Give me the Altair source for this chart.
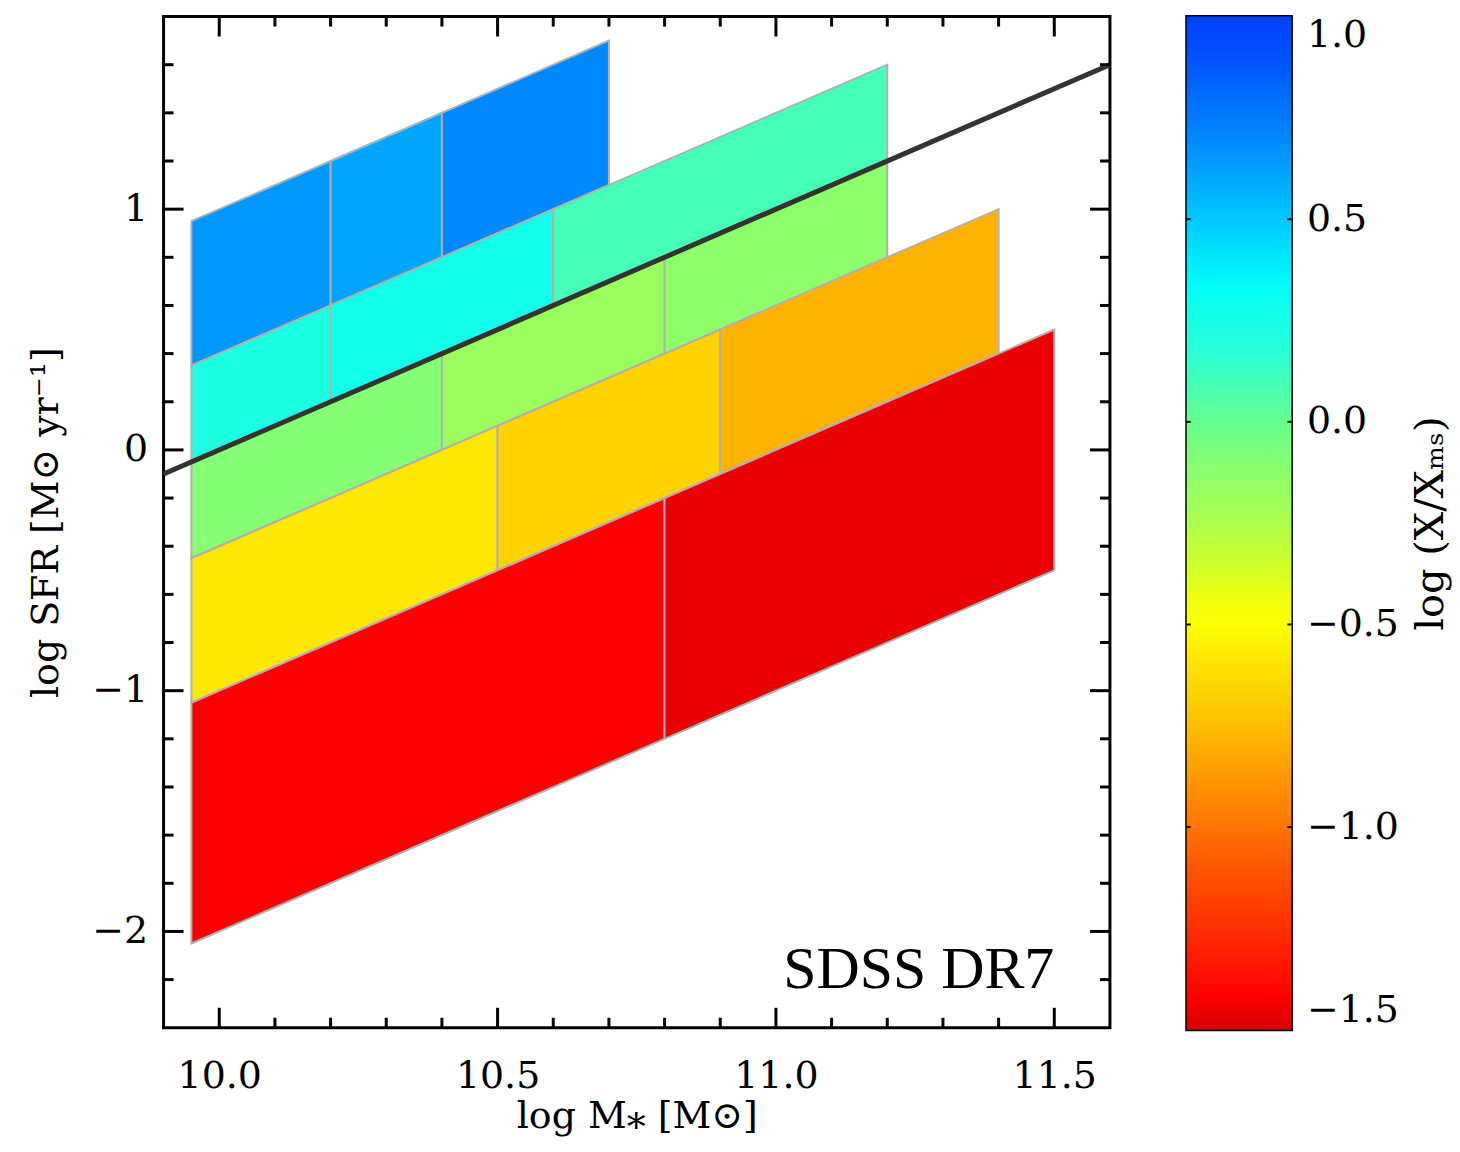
import altair as alt
import pandas as pd

# ---------------- data ----------------
# colour bar (colour map)
cbar_values = [-1.5, -1.42, -1.37, -1.25, -1.12, -1.0, -0.85, -0.8, -0.68, -0.58,
               -0.5, -0.43, -0.36, -0.235, -0.11, 0.0, 0.06, 0.18, 0.305, 0.33,
               0.43, 0.5, 0.55, 0.675, 0.79, 0.91, 1.0]
cbar_colors = ["#d40000", "#ff0000", "#ff0e00", "#ff3000", "#ff5000", "#ff7400",
               "#ffa000", "#ffb000", "#ffd000", "#ffe800", "#ffff00", "#eeff10",
               "#d0ff28", "#a8ff50", "#88ff70", "#66ff90", "#50ffa8", "#28ffd8",
               "#08fff0", "#00fff8", "#00e0ff", "#00c8ff", "#00b8ff", "#0090ff",
               "#0070ff", "#0050ff", "#0040ff"]
cbar_labels = [1.0, 0.5, 0.0, -0.5, -1.0, -1.5]
cbar_inner_ticks = [0.5, 0.0, -0.5, -1.0]

# bins: stellar-mass range and offset from the main sequence (log SFR - MS)
bin_mass_lo = [9.95, 10.2, 10.4, 9.95, 10.2, 10.6, 9.95, 10.4, 10.8, 9.95, 10.5, 10.9, 9.95, 10.8]
bin_mass_hi = [10.2, 10.4, 10.7, 10.2, 10.6, 11.2, 10.4, 10.8, 11.2, 10.5, 10.9, 11.4, 10.8, 11.5]
bin_dms_lo = [0.4, 0.4, 0.4, 0.0, 0.0, 0.0, -0.4, -0.4, -0.4, -1.0, -1.0, -1.0, -2.0, -2.0]
bin_dms_hi = [1.0, 1.0, 1.0, 0.4, 0.4, 0.4, 0.0, 0.0, 0.0, -0.4, -0.4, -0.4, -1.0, -1.0]
bin_value = [0.65, 0.61, 0.70, 0.23, 0.27, 0.10, -0.10, -0.18, -0.13, -0.58, -0.67, -0.79, -1.42, -1.46]

# main-sequence line: log SFR = log M* - 10
ms_intercept = -10.0
ms_mass = [9.9, 11.6]
ms_sfr = [-0.1, 1.6]

# axis ticks
x_major = [10.0, 10.5, 11.0, 11.5]
x_minor = [10.1, 10.2, 10.3, 10.4, 10.6, 10.7, 10.8, 10.9, 11.1, 11.2, 11.3, 11.4]
y_major = [-2, -1, 0, 1]
y_minor = [-2.2, -1.8, -1.6, -1.4, -1.2, -0.8, -0.6, -0.4, -0.2,
           0.2, 0.4, 0.6, 0.8, 1.2, 1.4, 1.6]

label_text = ["SDSS DR7"]
label_mass = [11.5]
label_sfr = [-2.235]

# ---------------- tables ----------------
rows = []
for i in range(len(bin_mass_lo)):
    for m in (bin_mass_lo[i], bin_mass_hi[i]):
        ms = m + ms_intercept
        rows.append(dict(pid=i, mass=m, lo=ms + bin_dms_lo[i], hi=ms + bin_dms_hi[i], val=bin_value[i]))
patch_df = pd.DataFrame(rows)
ms_df = pd.DataFrame({"mass": ms_mass, "sfr": ms_sfr})
xmaj_df = pd.DataFrame({"mass": x_major})
xmin_df = pd.DataFrame({"mass": x_minor})
ymaj_df = pd.DataFrame({"sfr": y_major})
ymin_df = pd.DataFrame({"sfr": y_minor})
lab_df = pd.DataFrame({"mass": label_mass, "sfr": label_sfr, "t": label_text})

W, H = 949, 1014
CW, CH = 105, 1016
FONT = "DejaVu Serif"

xs = alt.Scale(domain=[9.9, 11.6], nice=False, zero=False)
ys = alt.Scale(domain=[-2.4, 1.8], nice=False, zero=False)
cscale = alt.Scale(domain=cbar_values, range=cbar_colors, interpolate="rgb")

X_TITLE = "log M⁎ [M⊙]"
Y_TITLE = "log SFR [M⊙ yr⁻¹]"
x_axis = alt.Axis(values=x_major, format=".1f", tickSize=0, domain=False, grid=False,
                  labelPadding=30, labelFlush=False, title=X_TITLE, titlePadding=2)
y_axis = alt.Axis(values=y_major, format="d", tickSize=0, domain=False, grid=False,
                  labelPadding=16, labelFlush=False, title=Y_TITLE, titlePadding=26)

def X(field):
    return alt.X(field, scale=xs, axis=x_axis, title=X_TITLE)

def Y(field, **kw):
    return alt.Y(field, scale=ys, axis=y_axis, title=Y_TITLE, **kw)

patches = alt.Chart(patch_df).mark_area(
    stroke="#b0b0b0", strokeWidth=2, opacity=1, interpolate="linear"
).encode(
    x=X("mass:Q"),
    y=Y("lo:Q", stack=None),
    y2="hi:Q",
    color=alt.Color("val:Q", scale=cscale, legend=None),
    detail="pid:N",
)

ms_line = alt.Chart(ms_df).mark_line(color="#333333", strokeWidth=5).encode(
    x=X("mass:Q"), y=Y("sfr:Q"),
)

def xticks(df, length):
    bot = alt.Chart(df).mark_rule(color="black", strokeWidth=3).encode(
        x=X("mass:Q"), y=alt.value(H), y2=alt.value(H - length))
    top = alt.Chart(df).mark_rule(color="black", strokeWidth=3).encode(
        x=X("mass:Q"), y=alt.value(0), y2=alt.value(length))
    return [bot, top]

def yticks(df, length):
    left = alt.Chart(df).mark_rule(color="black", strokeWidth=3).encode(
        y=Y("sfr:Q"), x=alt.value(0), x2=alt.value(length))
    right = alt.Chart(df).mark_rule(color="black", strokeWidth=3).encode(
        y=Y("sfr:Q"), x=alt.value(W), x2=alt.value(W - length))
    return [left, right]

label = alt.Chart(lab_df).mark_text(
    align="right", baseline="alphabetic", font="Liberation Serif", fontSize=60, color="black"
).encode(
    x=X("mass:Q"), y=Y("sfr:Q"),
    text="t:N",
)

main = alt.layer(
    patches, ms_line,
    *xticks(xmaj_df, 20), *xticks(xmin_df, 10),
    *yticks(ymaj_df, 20), *yticks(ymin_df, 10),
    label,
).properties(width=W, height=H)

# ---------------- colour bar ----------------
c_lo, c_hi = cbar_values[0], cbar_values[-1]
gradient = {
    "gradient": "linear",
    "x1": 0, "x2": 0, "y1": 1, "y2": 0,
    "stops": [{"offset": (v - c_lo) / (c_hi - c_lo), "color": c} for v, c in zip(cbar_values, cbar_colors)],
}
C_TITLE = "log (X/Xₘₛ)"
cb_scale = alt.Scale(domain=[c_lo, c_hi], nice=False, zero=False)
cb_axis = alt.Axis(
    orient="right", values=cbar_labels, format=".1f", labelFlush=True,
    tickSize=0, domain=False, grid=False, labelPadding=15,
    title=C_TITLE, titleAngle=270, titleBaseline="top", titlePadding=12, titleFontSize=40)

def CY(field):
    return alt.Y(field, scale=cb_scale, axis=cb_axis, title=C_TITLE)

cbar_df = pd.DataFrame({"lo": [c_lo], "hi": [c_hi]})
cbar_rect = alt.Chart(cbar_df).mark_rect(fill=gradient).encode(
    x=alt.value(0), x2=alt.value(CW),
    y=CY("lo:Q"),
    y2="hi:Q",
)
cbt_df = pd.DataFrame({"lo": cbar_inner_ticks})
cbt_l = alt.Chart(cbt_df).mark_rule(color="black", strokeWidth=2).encode(
    y=CY("lo:Q"), x=alt.value(0), x2=alt.value(4))
cbt_r = alt.Chart(cbt_df).mark_rule(color="black", strokeWidth=2).encode(
    y=CY("lo:Q"), x=alt.value(CW), x2=alt.value(CW - 4))
cbar = alt.layer(cbar_rect, cbt_l, cbt_r).properties(width=CW, height=CH)

chart = alt.hconcat(main, cbar, spacing=62).properties(
    padding={"left": 18, "top": 4, "right": 0, "bottom": 0}
).configure_view(
    stroke="black", strokeWidth=3
).configure_axis(
    labelFont=FONT, titleFont=FONT, labelFontSize=38, titleFontSize=38,
    labelColor="black", titleColor="black", titleFontWeight="normal"
)

chart.save("out.html", embed_options={"renderer": "svg", "actions": False})
